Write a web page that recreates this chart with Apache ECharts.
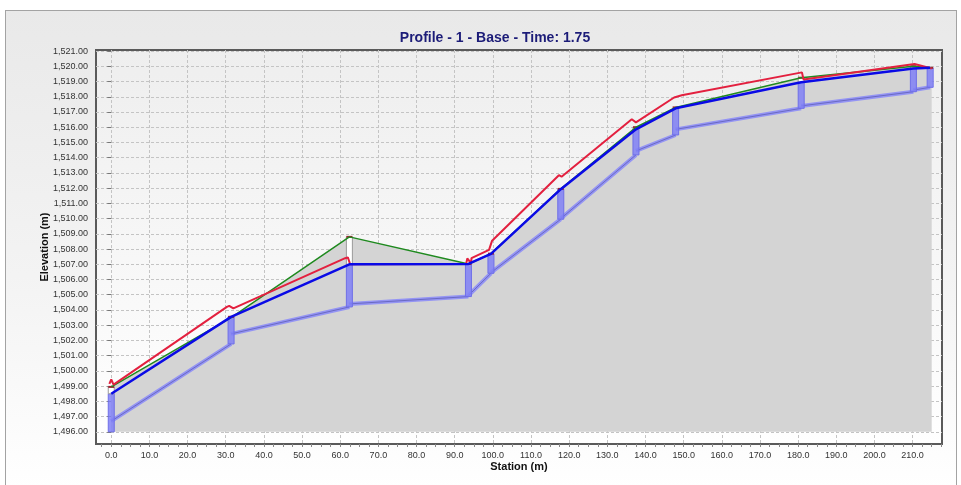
<!DOCTYPE html>
<html>
<head>
<meta charset="utf-8">
<script src="https://cdn.jsdelivr.net/npm/echarts@6/dist/echarts.min.js"></script>
<style>
  html, body { margin: 0; padding: 0; background: #ffffff; }
  #panel {
    position: absolute; left: 5px; top: 10px; width: 950px; height: 480px;
    border: 1px solid #a3a3a3;
    background: linear-gradient(to bottom, #e9e9e9 0%, #f3f3f3 55%, #ffffff 100%);
  }
  #chart { position: absolute; left: 0; top: 0; width: 961px; height: 485px; }
</style>
</head>
<body>
<div id="panel"></div>
<div id="chart"></div>
<script>
// Axis tick values
const stationTicks = [0, 10, 20, 30, 40, 50, 60, 70, 80, 90, 100, 110, 120, 130, 140, 150, 160, 170, 180, 190, 200, 210];
const elevationTicks = [1496, 1497, 1498, 1499, 1500, 1501, 1502, 1503, 1504, 1505, 1506, 1507, 1508, 1509, 1510,
                        1511, 1512, 1513, 1514, 1515, 1516, 1517, 1518, 1519, 1520, 1521];

// Ground surface
const groundStation = [0, 31.4, 62.4, 93.6, 99.5, 117.8, 137.5, 147.9, 180.8, 210.2, 215.0];
const groundElev    = [1498.95, 1503.5, 1508.8, 1507.02, 1507.7, 1511.95, 1516.0, 1517.3, 1519.25, 1520.0, 1519.9];

// Hydraulic grade line
const hglStation = [0, 31.4, 62.4, 93.6, 99.5, 117.8, 137.5, 147.9, 180.8, 210.2, 214.6];
const hglElev    = [1498.5, 1503.55, 1507.0, 1507.02, 1507.68, 1511.93, 1515.86, 1517.24, 1518.95, 1519.86, 1519.9];

// Energy grade line
const eglStation = [-0.5, 0.0, 0.6, 30.3, 30.9, 32.0, 61.3, 62.0, 62.6, 93.0, 93.3, 94.3, 94.4, 99.0, 99.8,
                    117.3, 118.0, 136.4, 137.5, 147.5, 149.5, 181.0, 181.4, 210.5, 215.0];
const eglElev    = [1499.15, 1499.45, 1499.1, 1504.2, 1504.27, 1504.1, 1507.4, 1507.45, 1507.0, 1507.02, 1507.38,
                    1507.07, 1507.4, 1507.95, 1508.55, 1512.85, 1512.75, 1516.52, 1516.32, 1517.95, 1518.1,
                    1519.6, 1519.14, 1520.15, 1519.86];

// Pipe inverts (each pipe from one structure to the next)
const pipeFrom    = [0, 31.4, 62.4, 93.6, 99.5, 117.8, 137.5, 147.9, 180.8, 210.2];
const pipeTo      = [31.4, 62.4, 93.6, 99.5, 117.8, 137.5, 147.9, 180.8, 210.2, 214.6];
const pipeInvFrom = [1496.7, 1502.43, 1504.4, 1504.95, 1506.45, 1510.0, 1514.44, 1515.86, 1517.4, 1518.44];
const pipeInvTo   = [1501.77, 1504.2, 1504.88, 1506.41, 1509.96, 1514.18, 1515.49, 1517.24, 1518.33, 1518.62];

// Manholes: station, sump, rim (water level comes from the HGL)
const mhStation = [0, 31.4, 62.4, 93.6, 99.5, 117.8, 137.5, 147.9, 180.8, 210.2, 214.6];
const mhBottom  = [1496.0, 1501.77, 1504.2, 1504.88, 1506.41, 1509.96, 1514.18, 1515.49, 1517.24, 1518.33, 1518.62];
const mhRim     = [1498.95, 1503.55, 1508.8, 1507.02, 1507.7, 1511.95, 1516.0, 1517.3, 1519.25, 1520.0, 1519.9];

const FONT = "'Liberation Sans', Arial, sans-serif";

const zip = (xs, ys) => xs.map((x, i) => [x, ys[i]]);

const invertData = [];
pipeFrom.forEach((s, i) => {
  invertData.push([s, pipeInvFrom[i]], [pipeTo[i], pipeInvTo[i]], [null, null]);
});

const manholeData = mhStation.map((s, i) => [s, mhBottom[i], hglElev[i], mhRim[i]]);

// minor tick marks along the station axis
const stationMinor = [];
for (let v = -2.5; v <= 217.5; v += 2.5) stationMinor.push(v);

const chart = echarts.init(document.getElementById('chart'), null, { renderer: 'canvas' });

chart.setOption({
  backgroundColor: 'transparent',
  animation: false,
  title: {
    text: 'Profile - 1 - Base - Time: 1.75',
    left: 490, top: 26, textAlign: 'center',
    textStyle: { fontFamily: FONT, fontSize: 14, fontWeight: 'bold', color: '#1c1c78' }
  },
  grid: {
    left: 96, right: 19, top: 50, bottom: 41,
    show: true,
    borderColor: '#5a5a5a', borderWidth: 2,
    backgroundColor: new echarts.graphic.LinearGradient(0, 0, 0, 1, [
      { offset: 0, color: '#eeeeee' }, { offset: 1, color: '#ffffff' }
    ])
  },
  xAxis: [{
    type: 'value', min: -4, max: 217.7,
    name: 'Station (m)', nameLocation: 'middle', nameGap: 17, nameMoveOverlap: false,
    nameTextStyle: { fontFamily: FONT, fontSize: 11, fontWeight: 'bold', color: '#111', verticalAlign: 'top' },
    axisLine: { show: false },
    axisTick: { show: true, length: 3, lineStyle: { color: '#777' }, customValues: stationTicks },
    axisLabel: {
      margin: 7, fontFamily: FONT, fontSize: 9, color: '#333',
      customValues: stationTicks, formatter: v => v.toFixed(1)
    },
    splitLine: { show: true, lineStyle: { color: '#c4c4c4', type: [3, 2], width: 1 } }
  }, {
    type: 'value', min: -4, max: 217.7, position: 'bottom',
    axisLine: { show: false },
    axisTick: { show: true, length: 3, lineStyle: { color: '#888' }, customValues: stationMinor },
    axisLabel: { show: false },
    splitLine: { show: false }
  }],
  yAxis: {
    type: 'value', min: 1495.2, max: 1521.07,
    name: 'Elevation (m)', nameLocation: 'middle', nameGap: 46, nameMoveOverlap: false,
    nameTextStyle: { fontFamily: FONT, fontSize: 11, fontWeight: 'bold', color: '#111' },
    axisLine: { show: false },
    axisTick: { show: true, length: 4, lineStyle: { color: '#777' }, customValues: elevationTicks },
    axisLabel: {
      margin: 8, fontFamily: FONT, fontSize: 9, color: '#333',
      customValues: elevationTicks,
      formatter: v => v.toLocaleString('en-US', { minimumFractionDigits: 2, maximumFractionDigits: 2 })
    },
    splitLine: { show: true, lineStyle: { color: '#c4c4c4', type: [3, 2], width: 1 } }
  },
  series: [
    {
      name: 'Ground fill', type: 'line', data: zip(groundStation, groundElev), z: 1,
      symbol: 'none', lineStyle: { width: 0 },
      areaStyle: { color: '#d4d4d4', opacity: 1, origin: 1496 },
      silent: true
    },
    {
      name: 'Invert band', type: 'line', data: invertData, connectNulls: false, z: 2,
      symbol: 'none', lineStyle: { width: 4, color: '#9494f4' }, silent: true
    },
    {
      name: 'Invert', type: 'line', data: invertData, connectNulls: false, z: 2,
      symbol: 'none', lineStyle: { width: 1, color: '#6a6ac4' }, silent: true
    },
    {
      name: 'Manholes', type: 'custom', data: manholeData, clip: true, z: 3,
      encode: { x: 0, y: [1, 2, 3] },
      renderItem: (params, api) => {
        const st = api.value(0), bot = api.value(1), wat = api.value(2), rim = api.value(3);
        const pB = api.coord([st, bot]);
        const pW = api.coord([st, wat]);
        const pR = api.coord([st, rim]);
        const w = 6;
        const x0 = pB[0] - w / 2;
        const children = [{
          type: 'rect',
          shape: { x: x0, y: pW[1], width: w, height: pB[1] - pW[1] },
          style: { fill: 'rgba(128,128,246,0.85)', stroke: '#6f6fe8', lineWidth: 1 }
        }];
        if (pW[1] - pR[1] > 1) {
          children.push({
            type: 'rect',
            shape: { x: x0, y: pR[1], width: w, height: pW[1] - pR[1] },
            style: { fill: '#ffffff', stroke: '#9a9a9a', lineWidth: 1 }
          });
        }
        children.push({
          type: 'line',
          shape: { x1: x0, y1: pR[1], x2: x0 + w, y2: pR[1] },
          style: { stroke: '#a02030', lineWidth: 2 }
        });
        return { type: 'group', children };
      }
    },
    {
      name: 'Ground', type: 'line', data: zip(groundStation, groundElev), z: 4,
      symbol: 'none', lineStyle: { width: 1.5, color: '#1f8a1f' }
    },
    {
      name: 'EGL', type: 'line', data: zip(eglStation, eglElev), z: 5,
      symbol: 'none', lineStyle: { width: 2, color: '#e3203f' }
    },
    {
      name: 'HGL', type: 'line', data: zip(hglStation, hglElev), z: 6,
      symbol: 'none', lineStyle: { width: 2.5, color: '#0a0ae6' }
    }
  ]
});
</script>
</body>
</html>
